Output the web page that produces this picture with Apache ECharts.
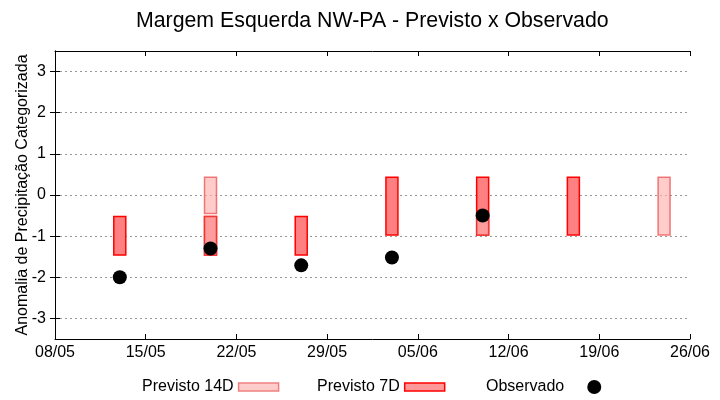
<!DOCTYPE html>
<html>
<head>
<meta charset="utf-8">
<script src="https://cdn.jsdelivr.net/npm/echarts@6/dist/echarts.min.js"></script>
<style>html,body{margin:0;padding:0;background:#fff}#c{width:720px;height:400px}</style>
</head>
<body>
<div id="c"></div>
<script>
// ---- data ----
const baseDate = '08/05/2024';
const tickLabels = ['08/05','15/05','22/05','29/05','05/06','12/06','19/06','26/06'];
const yTicks = [-3, -2, -1, 0, 1, 2, 3];

const prev7D_dates = ['13/05','20/05','27/05','03/06','10/06','17/06'];
const prev7D_top    = [-0.52, -0.52, -0.52, 0.43, 0.43, 0.43];
const prev7D_bottom = [-1.46, -1.46, -1.46, -0.97, -0.97, -0.97];

const prev14D_dates = ['20/05','20/05','10/06','24/06'];
const prev14D_top    = [0.43, -0.52, -0.52, 0.43];
const prev14D_bottom = [-0.45, -1.46, -0.97, -0.97];

const obs_dates  = ['13/05','20/05','27/05','03/06','10/06'];
const obs_values = [-2.0, -1.30, -1.71, -1.52, -0.50];

// ---- helpers ----
function parseDM(s) {
  const p = s.split('/');
  return Date.UTC(2024, parseInt(p[1], 10) - 1, parseInt(p[0], 10));
}
const base = parseDM(baseDate);
const DAY = 86400000;
function dayOffset(s) { return Math.round((parseDM(s) - base) / DAY); }
function fmtDay(v) {
  const d = new Date(base + v * DAY);
  const dd = String(d.getUTCDate()).padStart(2, '0');
  const mm = String(d.getUTCMonth() + 1).padStart(2, '0');
  return dd + '/' + mm;
}

const c7 = {fill: '#ff8080', stroke: '#ff0000'};
const c14 = {fill: 'rgba(255,174,174,0.63)', stroke: 'rgba(231,53,53,0.63)'};

function rangeRender(style) {
  return function (params, api) {
    const x = api.value(0), hi = api.value(1), lo = api.value(2);
    const p1 = api.coord([x, hi]);
    const p2 = api.coord([x, lo]);
    const w = 12;
    return {
      type: 'rect',
      shape: {x: p1[0] - w / 2, y: p1[1], width: w, height: p2[1] - p1[1]},
      style: {fill: style.fill, stroke: style.stroke, lineWidth: 1.5}
    };
  };
}

const font = 'Liberation Sans, Arial, sans-serif';
const chart = echarts.init(document.getElementById('c'), null, {renderer: 'canvas'});

const yBase = {
  type: 'value', min: -3.5, max: 3.5,
  axisLine: {show: true, lineStyle: {color: '#000', width: 1}},
  axisTick: {show: true, inside: true, length: 5, customValues: yTicks, lineStyle: {color: '#000'}},
};
const xBase = {
  type: 'value', min: 0, max: 49, interval: 7,
  axisLine: {show: true, onZero: false, lineStyle: {color: '#000', width: 1}},
  axisTick: {show: true, inside: true, length: 5, lineStyle: {color: '#000'}},
  splitLine: {show: false}
};

const legendText = {fontFamily: font, fontSize: 16, color: '#000'};

chart.setOption({
  animation: false,
  backgroundColor: '#fff',
  title: {
    text: 'Margem Esquerda NW-PA - Previsto x Observado',
    left: 131, top: 6,
    textStyle: {fontFamily: font, fontSize: 21.3, fontWeight: 'normal', color: '#000'}
  },
  grid: {left: 55, right: 30, top: 51, bottom: 61},
  xAxis: [
    Object.assign({}, xBase, {
      position: 'bottom',
      axisLabel: {show: true, margin: 6, fontFamily: font, fontSize: 16, color: '#000',
        formatter: function (v) { return fmtDay(v); }}
    }),
    Object.assign({}, xBase, {position: 'top', axisLabel: {show: false}})
  ],
  yAxis: [
    Object.assign({}, yBase, {
      position: 'left',
      name: 'Anomalia de Precipitação Categorizada',
      nameLocation: 'middle', nameGap: 24, nameMoveOverlap: false,
      nameTextStyle: {fontFamily: font, fontSize: 16, color: '#000'},
      axisLabel: {show: true, customValues: yTicks, margin: 9, fontFamily: font, fontSize: 16, color: '#000'},
      splitLine: {show: true, lineStyle: {color: '#999', type: [2, 3], width: 1}}
    }),
    Object.assign({}, yBase, {
      position: 'right',
      axisLabel: {show: false},
      splitLine: {show: false}
    })
  ],
  legend: [
    {
      left: 142, top: 379, padding: 0, align: 'right', itemWidth: 40, itemHeight: 8,
      data: [{name: 'Previsto 14D', icon: 'rect', itemStyle: {color: '#ffcccc', borderColor: '#f08080', borderWidth: 1.5}}],
      textStyle: legendText
    },
    {
      left: 317, top: 379, padding: 0, align: 'right', itemWidth: 40, itemHeight: 8,
      data: [{name: 'Previsto 7D', icon: 'rect', itemStyle: {color: '#ff9999', borderColor: '#ff0000', borderWidth: 1.5}}],
      textStyle: legendText
    },
    {
      left: 486, top: 379, padding: 0, align: 'right', itemWidth: 50, itemHeight: 14,
      data: [{name: 'Observado', icon: 'circle', itemStyle: {color: '#000'}}],
      textStyle: legendText
    }
  ],
  series: [
    {
      name: 'Previsto 7D', type: 'custom', z: 2,
      renderItem: rangeRender(c7),
      itemStyle: {color: c7.fill, borderColor: c7.stroke},
      encode: {x: 0, y: [1, 2]},
      data: prev7D_dates.map((d, i) => [dayOffset(d), prev7D_top[i], prev7D_bottom[i]])
    },
    {
      name: 'Previsto 14D', type: 'custom', z: 3,
      renderItem: rangeRender(c14),
      itemStyle: {color: '#ffcccc', borderColor: '#f08080'},
      encode: {x: 0, y: [1, 2]},
      data: prev14D_dates.map((d, i) => [dayOffset(d), prev14D_top[i], prev14D_bottom[i]])
    },
    {
      name: 'Observado', type: 'scatter', z: 4,
      symbol: 'circle', symbolSize: 14,
      itemStyle: {color: '#000', opacity: 1},
      data: obs_dates.map((d, i) => [dayOffset(d), obs_values[i]])
    }
  ]
});
</script>
</body>
</html>
